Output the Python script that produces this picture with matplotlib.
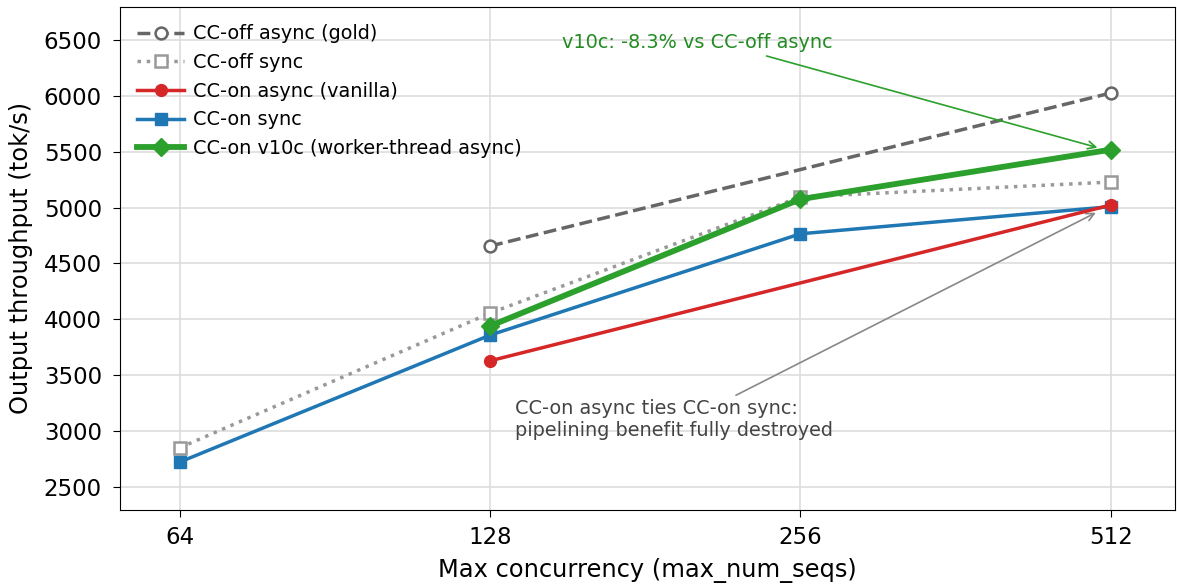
import matplotlib
matplotlib.use("Agg")
import matplotlib.pyplot as plt
import numpy as np

concurrency = [64, 128, 256, 512]
tick_labels = ["64", "128", "256", "512"]

gold_x = [128, 512]
gold_y = [4655, 6025]

offsync_x = [64, 128, 256, 512]
offsync_y = [2850, 4055, 5095, 5228]

onasync_x = [128, 512]
onasync_y = [3628, 5022]

onsync_x = [64, 128, 256, 512]
onsync_y = [2722, 3858, 4765, 5008]

v10c_x = [128, 256, 512]
v10c_y = [3940, 5075, 5518]

fig = plt.figure(figsize=(11.77, 5.84), dpi=100)
ax = fig.add_axes([0.102, 0.127, 0.896, 0.861])

ax.plot(gold_x, gold_y, color="#666666", ls="--", lw=2.5, marker="o", ms=8.5,
        mfc="white", mec="#666666", mew=1.8, label="CC-off async (gold)", zorder=3)
ax.plot(offsync_x, offsync_y, color="#999999", ls=":", lw=2.5, marker="s", ms=8.5,
        mfc="white", mec="#999999", mew=1.8, label="CC-off sync", zorder=3)
ax.plot(onasync_x, onasync_y, color="#d62728", lw=2.5, marker="o", ms=8.5,
        label="CC-on async (vanilla)", zorder=4)
ax.plot(onsync_x, onsync_y, color="#1f77b4", lw=2.5, marker="s", ms=8.5,
        label="CC-on sync", zorder=3)
ax.plot(v10c_x, v10c_y, color="#2ca02c", lw=4.2, marker="D", ms=9,
        label="CC-on v10c (worker-thread async)", zorder=5)

ax.set_xscale("log", base=2)
ax.set_xticks(concurrency)
ax.set_xticklabels(tick_labels)
ax.minorticks_off()
ax.set_xlim(56, 590.6)
ax.set_ylim(2294, 6795)
ax.set_yticks(np.arange(2500, 6501, 500))
ax.tick_params(labelsize=16.5, length=5)
ax.tick_params(axis="y", pad=8)
ax.tick_params(axis="x", pad=7)
ax.grid(True, color="#dddddd", lw=1.2)
ax.set_axisbelow(True)
ax.set_xlabel("Max concurrency (max_num_seqs)", fontsize=17.4, labelpad=6)
ax.set_ylabel("Output throughput (tok/s)", fontsize=17.4, labelpad=7.5)

ax.annotate("v10c: -8.3% vs CC-off async", xy=(500, 5530), xytext=(150.2, 6473),
            color="#228b22", fontsize=13.9, ha="left", va="center",
            arrowprops=dict(arrowstyle="->", color="#2ca02c", lw=1.2,
                            relpos=(0.71, 0.0), shrinkA=2))
ax.annotate("CC-on async ties CC-on sync:\npipelining benefit fully destroyed",
            xy=(498, 4965), xytext=(135.3, 3100),
            color="#444444", fontsize=13.9, ha="left", va="center",
            arrowprops=dict(arrowstyle="->", color="#888888", lw=1.2,
                            shrinkA=2, relpos=(0.67, 1.0)))

ax.legend(loc="upper left", fontsize=13.9, frameon=False, handlelength=2.4,
          borderaxespad=0.5, labelspacing=0.5, handletextpad=0.5)

fig.savefig("out.png", dpi=100)
